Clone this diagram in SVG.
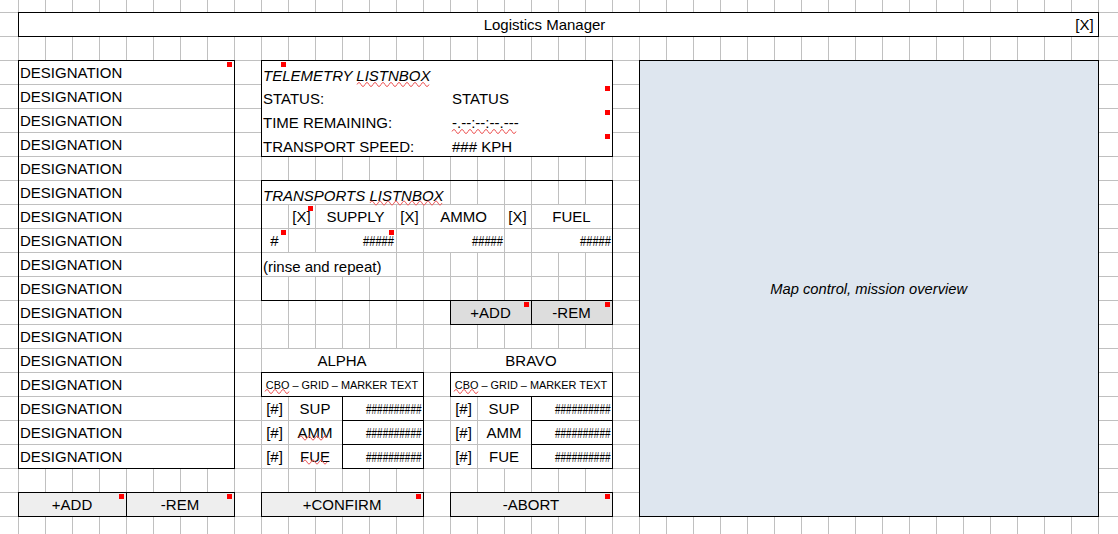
<svg xmlns="http://www.w3.org/2000/svg" width="1118" height="534" viewBox="0 0 1118 534">
<style>
text{font-family:"Liberation Sans",Arial,sans-serif;font-size:15px;fill:#000}
.i{font-style:italic}
.s{font-size:10.9px}
.c{text-anchor:middle}
.box{fill:#fff;stroke:#000;stroke-width:1}
.btn{fill:#eeeeee;stroke:#000;stroke-width:1}
.btn2{fill:#dddddd;stroke:#000;stroke-width:1}
.m{fill:#ff0000}
.w{fill:#fff}
.sq{fill:none;stroke:#ee5c5c;stroke-width:1}
.gl{stroke:#c0c0c0;stroke-width:1;fill:none}
</style>
<defs>
<pattern id="grid" x="18" y="12" width="27" height="24" patternUnits="userSpaceOnUse">
<path d="M0.5 0V24M0 0.5H27" class="gl"/>
</pattern>
</defs>
<rect width="1118" height="534" fill="#fff"/>
<rect width="1118" height="534" fill="url(#grid)"/>

<g id="title">
<rect class="box" x="18.5" y="12.5" width="1080" height="24"/>
<text class="c" x="544.5" y="30">Logistics Manager</text>
<text class="c" x="1084.5" y="30">[X]</text>
</g>

<g id="designations">
<rect class="box" x="18.5" y="60.5" width="216" height="408"/>
<path class="gl" d="M19 84.5H234M19 108.5H234M19 132.5H234M19 156.5H234M19 180.5H234M19 204.5H234M19 228.5H234M19 252.5H234M19 276.5H234M19 300.5H234M19 324.5H234M19 348.5H234M19 372.5H234M19 396.5H234M19 420.5H234M19 444.5H234"/>
<text x="20" y="78">DESIGNATION</text>
<text x="20" y="102">DESIGNATION</text>
<text x="20" y="126">DESIGNATION</text>
<text x="20" y="150">DESIGNATION</text>
<text x="20" y="174">DESIGNATION</text>
<text x="20" y="198">DESIGNATION</text>
<text x="20" y="222">DESIGNATION</text>
<text x="20" y="246">DESIGNATION</text>
<text x="20" y="270">DESIGNATION</text>
<text x="20" y="294">DESIGNATION</text>
<text x="20" y="318">DESIGNATION</text>
<text x="20" y="342">DESIGNATION</text>
<text x="20" y="366">DESIGNATION</text>
<text x="20" y="390">DESIGNATION</text>
<text x="20" y="414">DESIGNATION</text>
<text x="20" y="438">DESIGNATION</text>
<text x="20" y="462">DESIGNATION</text>
<rect class="m" x="227" y="62" width="5" height="5"/>
</g>

<g id="designation-add">
<rect class="btn" x="18.5" y="492.5" width="108" height="24"/>
<text class="c" x="72" y="510">+ADD</text>
<rect class="m" x="119" y="494" width="5" height="5"/>
</g>
<g id="designation-rem">
<rect class="btn" x="126.5" y="492.5" width="108" height="24"/>
<text class="c" x="180" y="510">-REM</text>
<rect class="m" x="227" y="494" width="5" height="5"/>
</g>

<g id="telemetry">
<rect class="box" x="261.5" y="60.5" width="351" height="96"/>
<text class="i" x="263" y="81">TELEMETRY LISTNBOX</text>
<text x="263" y="104">STATUS:</text>
<text x="452" y="104">STATUS</text>
<text x="263" y="128">TIME REMAINING:</text>
<text x="452" y="128">-.--:--:--.---</text>
<text x="263" y="152">TRANSPORT SPEED:</text>
<text x="452" y="152">### KPH</text>
<rect class="m" x="281" y="62" width="5" height="5"/>
<rect class="m" x="605" y="86" width="5" height="5"/>
<rect class="m" x="605" y="110" width="5" height="5"/>
<rect class="m" x="605" y="134" width="5" height="5"/>
<path class="sq" d="M357 84.5q2-4 4 0t4 0t4 0t4 0t4 0t4 0t4 0t4 0t4 0t4 0t4 0t4 0t4 0t4 0t4 0t4 0t4 0t4 0"/>
<path class="sq" d="M452 131.5q2-4 4 0t4 0t4 0t4 0t4 0t4 0t4 0t4 0t4 0t4 0t4 0t4 0t4 0t4 0t4 0t4 0"/>
</g>

<g id="transports">
<rect x="261.5" y="180.5" width="351" height="120" fill="none" stroke="#000"/>
<rect class="w" x="262" y="181" width="188" height="23"/>
<rect class="w" x="316" y="205" width="80" height="23"/>
<rect class="w" x="424" y="205" width="80" height="23"/>
<rect class="w" x="532" y="205" width="80" height="23"/>
<rect class="w" x="316" y="229" width="80" height="23"/>
<rect class="w" x="424" y="229" width="80" height="23"/>
<rect class="w" x="532" y="229" width="80" height="23"/>
<rect class="w" x="262" y="253" width="134" height="23"/>
<text class="i" x="263" y="201">TRANSPORTS LISTNBOX</text>
<text class="c" x="301.5" y="222">[X]</text>
<text class="c" x="355.5" y="222">SUPPLY</text>
<text class="c" x="409.5" y="222">[X]</text>
<text class="c" x="463.5" y="222">AMMO</text>
<text class="c" x="517.5" y="222">[X]</text>
<text class="c" x="571.5" y="222">FUEL</text>
<text class="c" x="274.5" y="246">#</text>
<text x="363" y="246" textLength="31" lengthAdjust="spacingAndGlyphs">#####</text>
<text x="472" y="246" textLength="31" lengthAdjust="spacingAndGlyphs">#####</text>
<text x="580" y="246" textLength="31" lengthAdjust="spacingAndGlyphs">#####</text>
<text x="263" y="272">(rinse and repeat)</text>
<rect class="m" x="308" y="206" width="5" height="5"/>
<rect class="m" x="281" y="230" width="5" height="5"/>
<rect class="m" x="389" y="230" width="5" height="5"/>
<path class="sq" d="M370 203q2-4 4 0t4 0t4 0t4 0t4 0t4 0t4 0t4 0t4 0t4 0t4 0t4 0t4 0t4 0t4 0t4 0t4 0t4 0"/>
</g>

<g id="transports-add">
<rect class="btn2" x="450.5" y="300.5" width="81" height="24"/>
<text class="c" x="490.5" y="318">+ADD</text>
<rect class="m" x="524" y="302" width="5" height="5"/>
</g>
<g id="transports-rem">
<rect class="btn2" x="531.5" y="300.5" width="81" height="24"/>
<text class="c" x="571.5" y="318">-REM</text>
<rect class="m" x="605" y="302" width="5" height="5"/>
</g>

<g id="alpha">
<rect class="w" x="262" y="349" width="161" height="23"/>
<text class="c" x="342" y="366">ALPHA</text>
<rect class="box" x="261.5" y="372.5" width="162" height="24"/>
<text class="c s" x="342" y="389">CBO – GRID – MARKER TEXT</text>
<rect class="w" x="289" y="397" width="53" height="23"/>
<rect class="w" x="289" y="421" width="53" height="23"/>
<rect class="w" x="289" y="445" width="53" height="23"/>
<rect class="box" x="342.5" y="396.5" width="81" height="24"/>
<rect class="box" x="342.5" y="420.5" width="81" height="24"/>
<rect class="box" x="342.5" y="444.5" width="81" height="24"/>
<text class="c" x="274.5" y="414">[#]</text>
<text class="c" x="315" y="414">SUP</text>
<text x="366" y="414" textLength="55.5" lengthAdjust="spacingAndGlyphs">##########</text>
<text class="c" x="274.5" y="438">[#]</text>
<text class="c" x="315" y="438">AMM</text>
<text x="366" y="438" textLength="55.5" lengthAdjust="spacingAndGlyphs">##########</text>
<text class="c" x="274.5" y="462">[#]</text>
<text class="c" x="315" y="462">FUE</text>
<text x="366" y="462" textLength="55.5" lengthAdjust="spacingAndGlyphs">##########</text>
<path class="sq" d="M265 391.5q2-4 4 0t4 0t4 0t4 0t4 0t4 0"/>
<path class="sq" d="M299 438q2-4 4 0t4 0t4 0t4 0t4 0t4 0t4 0"/>
<path class="sq" d="M303 462q2-4 4 0t4 0t4 0t4 0t4 0t4 0"/>
</g>

<g id="bravo">
<rect class="w" x="451" y="349" width="161" height="23"/>
<text class="c" x="531" y="366">BRAVO</text>
<rect class="box" x="450.5" y="372.5" width="162" height="24"/>
<text class="c s" x="531" y="389">CBO – GRID – MARKER TEXT</text>
<rect class="w" x="478" y="397" width="53" height="23"/>
<rect class="w" x="478" y="421" width="53" height="23"/>
<rect class="w" x="478" y="445" width="53" height="23"/>
<rect class="box" x="531.5" y="396.5" width="81" height="24"/>
<rect class="box" x="531.5" y="420.5" width="81" height="24"/>
<rect class="box" x="531.5" y="444.5" width="81" height="24"/>
<text class="c" x="463.5" y="414">[#]</text>
<text class="c" x="504" y="414">SUP</text>
<text x="555" y="414" textLength="55.5" lengthAdjust="spacingAndGlyphs">##########</text>
<text class="c" x="463.5" y="438">[#]</text>
<text class="c" x="504" y="438">AMM</text>
<text x="555" y="438" textLength="55.5" lengthAdjust="spacingAndGlyphs">##########</text>
<text class="c" x="463.5" y="462">[#]</text>
<text class="c" x="504" y="462">FUE</text>
<text x="555" y="462" textLength="55.5" lengthAdjust="spacingAndGlyphs">##########</text>
<path class="sq" d="M454 391.5q2-4 4 0t4 0t4 0t4 0t4 0t4 0"/>
</g>

<g id="confirm">
<rect class="btn" x="261.5" y="492.5" width="162" height="24"/>
<text class="c" x="342" y="510">+CONFIRM</text>
<rect class="m" x="416" y="494" width="5" height="5"/>
</g>
<g id="abort">
<rect class="btn" x="450.5" y="492.5" width="162" height="24"/>
<text class="c" x="531" y="510">-ABORT</text>
<rect class="m" x="605" y="494" width="5" height="5"/>
</g>

<g id="map">
<rect x="639.5" y="60.5" width="459" height="456" fill="#dee6ef" stroke="#000"/>
<text class="c i" x="868.7" y="294" style="font-size:14.7px">Map control, mission overview</text>
</g>

<g id="connectors"></g>
</svg>
